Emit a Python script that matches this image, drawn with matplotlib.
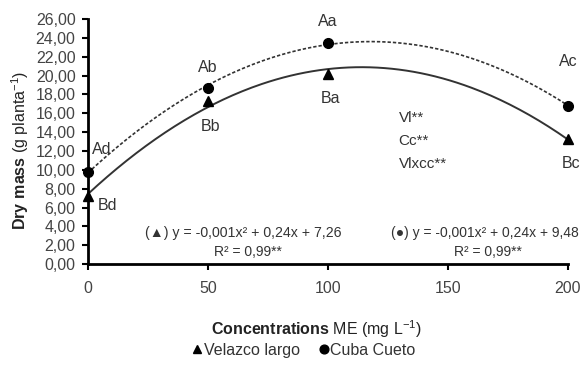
import numpy as np
import matplotlib.pyplot as plt
from matplotlib.ticker import FuncFormatter

plt.rcParams["font.family"] = ["Liberation Sans", "DejaVu Sans"]
plt.rcParams["mathtext.fontset"] = "custom"
plt.rcParams["mathtext.rm"] = "Liberation Sans"
plt.rcParams["mathtext.bf"] = "Liberation Sans:bold"

# data
conc = [0, 50, 100, 200]
velazco = [7.2, 17.3, 20.2, 13.3]
cuba = [9.8, 18.7, 23.5, 16.8]
velazco_letters = ["Bd", "Bb", "Ba", "Bc"]
cuba_letters = ["Ad", "Ab", "Aa", "Ac"]
yticks = np.arange(0, 27, 2)
xticks = [0, 50, 100, 150, 200]

eq_velazco = "(\u25B2) y = -0,001x\u00B2 + 0,24x + 7,26"
eq_cuba = "(\u25CF) y = -0,001x\u00B2 + 0,24x + 9,48"
r2_text = "R\u00B2 = 0,99**"
signif = ["Vl**", "Cc**", "Vlxcc**"]


def main():
    fig = plt.figure(figsize=(5.83, 3.72), dpi=100)
    ax = fig.add_axes([0.151, 0.290, 0.823, 0.659])

    # quadratic trend lines fitted to the means
    xs = np.linspace(0, 200, 200)
    pv = np.polyfit(conc, velazco, 2)
    pc = np.polyfit(conc, cuba, 2)
    ax.plot(xs, np.polyval(pv, xs), color="#333333", lw=1.4)
    ax.plot(xs, np.polyval(pc, xs), color="#333333", lw=1.2, ls=(0, (2, 1.2)))

    ax.plot(conc, velazco, "^", color="black", ms=7, label="Velazco largo", clip_on=False)
    ax.plot(conc, cuba, "o", color="black", ms=7, label="Cuba Cueto", clip_on=False)

    # letters (offsets in points)
    v_off = [(7, -6.5), (2, -18), (2, -18), (2, -18)]
    c_off = [(3, 16), (0, 14.5), (0, 15), (0, 32)]
    for x, y, t, o in zip(conc, velazco, velazco_letters, v_off):
        ax.annotate(t, (x, y), xytext=o, textcoords="offset points",
                    ha="left" if x == 0 else "center", va="center",
                    fontsize=11.5, color="#333333")
    for x, y, t, o in zip(conc, cuba, cuba_letters, c_off):
        ax.annotate(t, (x, y), xytext=o, textcoords="offset points",
                    ha="left" if x == 0 else "center", va="center",
                    fontsize=11.5, color="#333333")

    for i, s in enumerate(signif):
        ax.text(129.5, 15.5 - i * 2.45, s, fontsize=11, color="#333333", va="center")

    ax.text(64.5, 3.3, eq_velazco, ha="center", va="center", fontsize=10.2, color="#333333")
    ax.text(66.5, 1.25, r2_text, ha="center", va="center", fontsize=10, color="#333333")
    ax.text(165.5, 3.3, eq_cuba, ha="center", va="center", fontsize=10, color="#333333")
    ax.text(166.5, 1.25, r2_text, ha="center", va="center", fontsize=10, color="#333333")

    ax.set_xlim(0, 200)
    ax.set_ylim(0, 26)
    ax.set_xticks(xticks)
    ax.set_yticks(yticks)
    ax.yaxis.set_major_formatter(FuncFormatter(lambda v, p: f"{v:.2f}".replace(".", ",")))
    ax.tick_params(axis="y", direction="out", length=4, width=1.5, pad=5,
                   labelsize=11.5, labelcolor="#444444")
    ax.tick_params(axis="x", direction="out", length=4, width=1.5, pad=8,
                   labelsize=11.5, labelcolor="#444444")
    for side in ["top", "right"]:
        ax.spines[side].set_visible(False)
    for side in ["left", "bottom"]:
        ax.spines[side].set_linewidth(2)

    ax.set_ylabel(r"$\bf{Dry\ mass}$ (g planta$^{-1}$)", fontsize=11.5, color="#222222")
    ax.yaxis.set_label_coords(-0.118, 0.465)
    ax.set_xlabel(r"$\bf{Concentrations}$ ME (mg L$^{-1}$)", fontsize=11.5, color="#222222")
    ax.xaxis.set_label_coords(0.475, -0.222)

    ax.legend(loc="center", bbox_to_anchor=(0.45, -0.352), ncol=2, frameon=False,
              handlelength=0.6, handletextpad=0.1, columnspacing=1.2,
              fontsize=11.5, labelcolor="#333333", markerscale=0.9)

    fig.savefig("out.png", dpi=100)


if __name__ == "__main__":
    main()
